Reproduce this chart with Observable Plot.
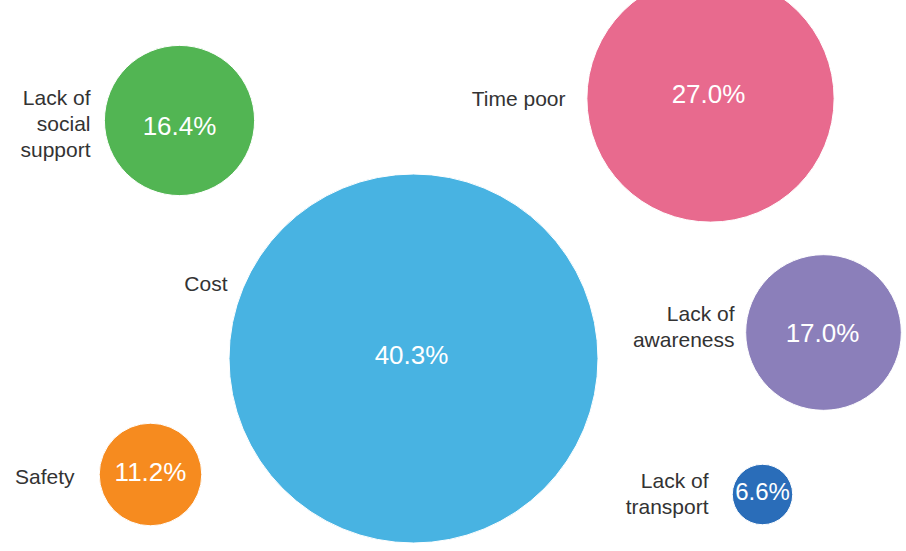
<!DOCTYPE html>
<html>
<head>
<meta charset="utf-8">
<script src="https://cdn.jsdelivr.net/npm/d3@7"></script>
<script src="https://cdn.jsdelivr.net/npm/@observablehq/plot@0.6"></script>
<style>
  html, body { margin: 0; padding: 0; background: #fff; }
  #chart svg { display: block; }
</style>
</head>
<body>
<div id="chart"></div>
<script>
// Data
const categories = ["Cost", "Time poor", "Lack of awareness", "Lack of social support", "Safety", "Lack of transport"];
const labels = ["Cost", "Time poor", "Lack of\nawareness", "Lack of\nsocial\nsupport", "Safety", "Lack of\ntransport"];
const values = [40.3, 27.0, 17.0, 16.4, 11.2, 6.6];
const colors = ["#48B3E2", "#E86A8E", "#8B7FBA", "#52B553", "#F68B1F", "#2A6DB9"];

// Layout (bubble placement, in page units)
const bubbleX = [413, 710, 823, 179, 150, 762];
const bubbleY = [358, 98, 332, 120, 474, 494];
const valueLabelX = [411, 708, 822, 179, 150, 762];
const valueLabelY = [355, 94, 333, 126, 472, 492];
const labelX = [227, 565, 734, 90, 74, 708];
const labelY = [284, 99, 327, 124, 477, 494];

const rows = categories.map((c, i) => ({
  category: c, label: labels[i], value: values[i], color: colors[i],
  x: bubbleX[i], y: bubbleY[i], vx: valueLabelX[i], vy: valueLabelY[i],
  lx: labelX[i], ly: labelY[i]
}));

const W = 906, H = 551;
const chart = Plot.plot({
  width: W, height: H,
  margin: 0,
  x: {domain: [0, W], range: [0, W], axis: null},
  y: {domain: [0, H], range: [0, H], axis: null},
  r: {type: "linear", domain: [0, 40.3], range: [0, 184.5]},
  style: {fontFamily: "'Liberation Sans', Arial, sans-serif", background: "#fff"},
  marks: [
    Plot.dot(rows, {x: "x", y: "y", r: "value", fill: d => d.color, stroke: "#fff", strokeWidth: 1}),
    Plot.text(rows.filter(d => d.value >= 10), {x: "vx", y: "vy", text: d => d.value.toFixed(1) + "%", fill: "#fff", fontSize: 26}),
    Plot.text(rows.filter(d => d.value < 10), {x: "vx", y: "vy", text: d => d.value.toFixed(1) + "%", fill: "#fff", fontSize: 24}),
    Plot.text(rows, {x: "lx", y: "ly", text: "label", textAnchor: "end", fill: "#333", fontSize: 21, lineHeight: 1.24, dy: -2})
  ]
});
document.getElementById("chart").appendChild(chart);
</script>
</body>
</html>
